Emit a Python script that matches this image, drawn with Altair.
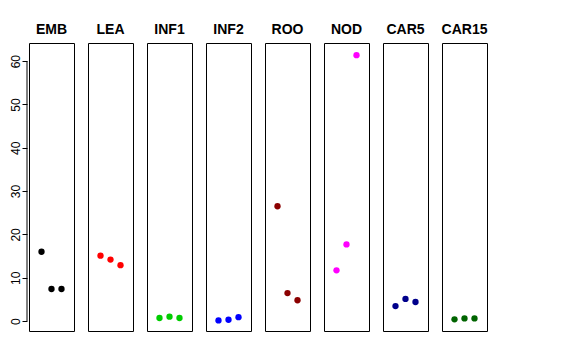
import altair as alt
import pandas as pd

groups = ["EMB", "LEA", "INF1", "INF2", "ROO", "NOD", "CAR5", "CAR15"]
colors = ["#000000", "#FF0000", "#00CD00", "#0000FF", "#8B0000", "#FF00FF", "#00008B", "#006400"]
emb = [16.0, 7.4, 7.4]
lea = [15.1, 14.2, 12.9]
inf1 = [0.7, 1.0, 0.7]
inf2 = [0.15, 0.3, 0.9]
roo = [26.5, 6.45, 4.8]
nod = [11.7, 17.7, 61.4]
car5 = [3.45, 5.1, 4.4]
car15 = [0.4, 0.6, 0.6]
series = [emb, lea, inf1, inf2, roo, nod, car5, car15]
y_ticks = [0, 10, 20, 30, 40, 50, 60]

rows = []
for g, vals in zip(groups, series):
    for i, v in enumerate(vals):
        rows.append({"group": g, "idx": i + 1, "value": v})
df = pd.DataFrame(rows)

yscale = alt.Scale(domain=[-2.3, 64.2], nice=False, zero=False)
xscale = alt.Scale(domain=[-0.25, 4.25], nice=False, zero=False)
cscale = alt.Scale(domain=groups, range=colors)

panels = []
for k, g in enumerate(groups):
    if k == 0:
        yaxis = alt.Axis(values=y_ticks, grid=False, domain=False, tickColor="black",
                         tickSize=5, labelAngle=270, labelColor="black", labelFontSize=12,
                         labelPadding=0, offset=2, labelFont="Liberation Sans", title=None)
    else:
        yaxis = None
    pts = alt.Chart(df).transform_filter(alt.datum.group == g).mark_circle(size=40, opacity=1).encode(
        x=alt.X("idx:Q", scale=xscale, axis=None),
        y=alt.Y("value:Q", scale=yscale, axis=yaxis),
        color=alt.Color("group:N", scale=cscale, legend=None),
    )
    if k == 0:
        rule = alt.Chart(pd.DataFrame({"a": [0], "b": [60]})).mark_rule(color="black", strokeWidth=1).encode(
            x=alt.value(-2), y=alt.Y("a:Q", scale=yscale), y2="b:Q"
        )
        layer = alt.layer(pts, rule)
    else:
        layer = alt.layer(pts)
    panels.append(layer.properties(width=45, height=288, title=g))

chart = alt.hconcat(*panels, spacing=12).properties(
    padding={"left": 0, "top": 14, "right": 5, "bottom": 5}
).configure_view(stroke="black", strokeWidth=1).configure_title(
    fontSize=14, fontWeight="bold", font="Liberation Sans", color="black", offset=6
)

chart.save("out.html", embed_options={"renderer": "svg", "actions": False})
